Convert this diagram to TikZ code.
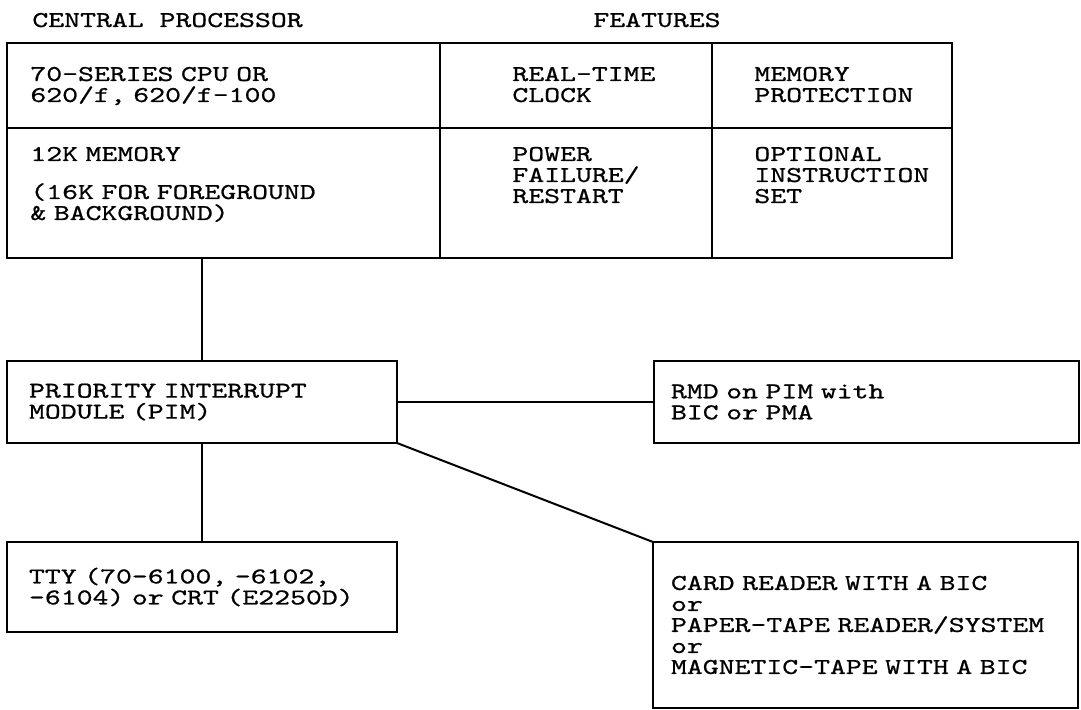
\documentclass[tikz,border=0pt]{standalone}
\usepackage{fontspec}
\newfontfamily\typewriter{lmmono10-regular.otf}[FakeStretch=1.34, FakeBold=0.8]
\usetikzlibrary{positioning}

\begin{document}
\begin{tikzpicture}[x=0.5pt, y=-0.5pt,
    every node/.style={font=\typewriter\fontsize{11.3}{10.5}\selectfont, inner sep=0pt},
    cell/.style={draw, line width=1pt, outer sep=0pt, minimum height=42.5pt},
    cellb/.style={cell, minimum height=65pt},
    txt/.style={anchor=base west, align=left, text width=200pt},
    box/.style={draw, line width=1pt, outer sep=0pt, align=left, inner xsep=11pt, text width=173pt, minimum height=41pt},
    wbox/.style={box, inner xsep=8.5pt, text width=195.5pt},
    link/.style={line width=1pt}]
  \useasboundingbox (0,0) rectangle (1081,710);

  % headings
  \node[anchor=base west] (head1) at (32,27) {CENTRAL PROCESSOR};
  \node[anchor=base west] (head2) at (593,27) {FEATURES};

  % central processor table
  \node[cell, anchor=north west, minimum width=216.5pt] (cpu) at (7,43) {};
  \node[cell, minimum width=136pt] (rtc) [right=0pt of cpu] {};
  \node[cell, minimum width=120pt] (mprot) [right=0pt of rtc] {};
  \node[cellb, minimum width=216.5pt] (mem) [below=0pt of cpu] {};
  \node[cellb, minimum width=136pt] (pwr) [right=0pt of mem] {};
  \node[cellb, minimum width=120pt] (opt) [right=0pt of pwr] {};

  \node[txt] (cputxt) at (30,81) {70-SERIES CPU OR\\620/f, 620/f-100};
  \node[txt] (rtctxt) at (512,81) {REAL-TIME\\CLOCK};
  \node[txt] (mprottxt) at (754,81) {MEMORY\\PROTECTION};
  \node[txt] (memtxt) at (30,161) {12K MEMORY\\[8.5pt](16K FOR FOREGROUND\\\& BACKGROUND)};
  \node[txt] (pwrtxt) at (512,161) {POWER\\FAILURE/\\RESTART};
  \node[txt] (opttxt) at (754,161) {OPTIONAL\\INSTRUCTION\\SET};

  % peripherals
  \node[box] (pim) at (202,402) {PRIORITY INTERRUPT\\MODULE (PIM)};
  \node[box, minimum height=45pt] (tty) [below=49.5pt of pim] {TTY (70-6100, -6102,\\-6104) or CRT (E2250D)};
  \node[wbox] (rmd) [right=128.5pt of pim] {RMD on PIM with\\BIC or PMA};
  \node[wbox, minimum height=83pt, anchor=north west, inner xsep=9pt, text width=194.5pt] (card) at (653,542)
    {CARD READER WITH A BIC\\or\\PAPER-TAPE READER/SYSTEM\\or\\MAGNETIC-TAPE WITH A BIC};

  \draw[link] (pim.north) -- (pim.north |- mem.south);
  \draw[link] (pim.south) -- (tty.north);
  \draw[link] (pim.east) -- (rmd.west);
  \draw[link] (pim.south east) -- (card.north west);
\end{tikzpicture}
\end{document}
